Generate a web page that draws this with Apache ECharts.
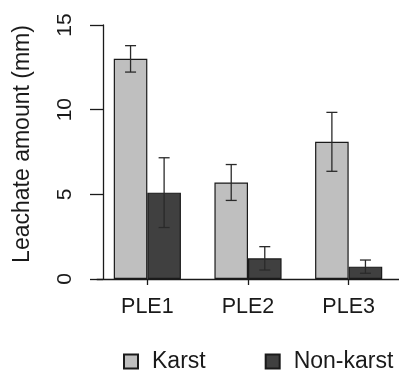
<!DOCTYPE html>
<html>
<head>
<meta charset="utf-8">
<script src="https://cdn.jsdelivr.net/npm/echarts@6/dist/echarts.min.js"></script>
<style>
  html, body { margin: 0; padding: 0; background: #fff; }
  #chart { width: 399px; height: 371px; }
</style>
</head>
<body>
<div id="chart"></div>
<script>
// Leachate amount per plot, mean with error bars
const categories = ['PLE1', 'PLE2', 'PLE3'];
const karst = [13.0, 5.7, 8.1];
const karstErr = [0.78, 1.06, 1.74];
const nonKarst = [5.1, 1.22, 0.73];
const nonKarstErr = [2.06, 0.69, 0.39];
const yTicks = [0, 5, 10, 15];

const FONT = 'Liberation Sans, Arial, Helvetica, sans-serif';
const INK = '#1a1a1a';

function errData(means, errs) {
  return means.map((m, i) => [i, m - errs[i], m + errs[i]]);
}

function errorBars(sign) {
  return function (params, api) {
    const idx = api.value(0);
    const band = api.size([1, 0])[0];
    const x = api.coord([idx, 0])[0] + sign * band / 6;
    const lo = api.coord([idx, api.value(1)])[1];
    const hi = api.coord([idx, api.value(2)])[1];
    const cap = 5.5;
    const style = { stroke: '#2a2a2a', lineWidth: 1.3 };
    return {
      type: 'group',
      children: [
        { type: 'line', shape: { x1: x, y1: lo, x2: x, y2: hi }, style },
        { type: 'line', shape: { x1: x - cap, y1: hi, x2: x + cap, y2: hi }, style },
        { type: 'line', shape: { x1: x - cap, y1: lo, x2: x + cap, y2: lo }, style }
      ]
    };
  };
}

const chart = echarts.init(document.getElementById('chart'), null, { renderer: 'canvas' });
chart.setOption({
  animation: false,
  textStyle: { fontFamily: FONT },
  grid: { left: 97, top: 25, width: 318, height: 254, containLabel: false },
  legend: {
    left: 123,
    top: 350,
    width: 276,
    padding: 0,
    itemWidth: 14,
    itemHeight: 14,
    itemGap: 59,
    icon: 'rect',
    textStyle: { fontSize: 23, color: INK, fontFamily: FONT, padding: [0, 0, 0, 9] },
    data: ['Karst', 'Non-karst']
  },
  xAxis: {
    type: 'category',
    data: categories,
    axisLine: { show: true, lineStyle: { color: INK, width: 1.3 } },
    axisTick: { show: true, alignWithLabel: true, length: 6, lineStyle: { color: INK, width: 1.3 } },
    axisLabel: { fontSize: 21.5, color: INK, margin: 17, fontFamily: FONT },
    splitLine: { show: false }
  },
  yAxis: {
    type: 'value',
    min: yTicks[0],
    max: yTicks[yTicks.length - 1],
    interval: 5,
    offset: -6,
    name: 'Leachate amount (mm)',
    nameLocation: 'middle',
    nameGap: 69,
    nameTextStyle: { fontSize: 23, color: INK, fontFamily: FONT, padding: [0, 0, 0, 16] },
    axisLine: { show: true, lineStyle: { color: INK, width: 1.3 } },
    axisTick: { show: true, length: 13, lineStyle: { color: INK, width: 1.3 } },
    axisLabel: { rotate: 90, fontSize: 21, color: INK, margin: 27, fontFamily: FONT },
    splitLine: { show: false }
  },
  series: [
    {
      name: 'Karst',
      type: 'bar',
      data: karst,
      barGap: '0%',
      barCategoryGap: '33.3%',
      itemStyle: { color: '#bfbfbf', borderColor: INK, borderWidth: 1.2 }
    },
    {
      name: 'Non-karst',
      type: 'bar',
      data: nonKarst,
      barGap: '0%',
      barCategoryGap: '33.3%',
      itemStyle: { color: '#404040', borderColor: INK, borderWidth: 1.2 }
    },
    {
      type: 'custom',
      renderItem: errorBars(-1),
      data: errData(karst, karstErr),
      encode: { x: 0, y: [1, 2] },
      z: 10
    },
    {
      type: 'custom',
      renderItem: errorBars(1),
      data: errData(nonKarst, nonKarstErr),
      encode: { x: 0, y: [1, 2] },
      z: 10
    }
  ]
});
</script>
</body>
</html>
